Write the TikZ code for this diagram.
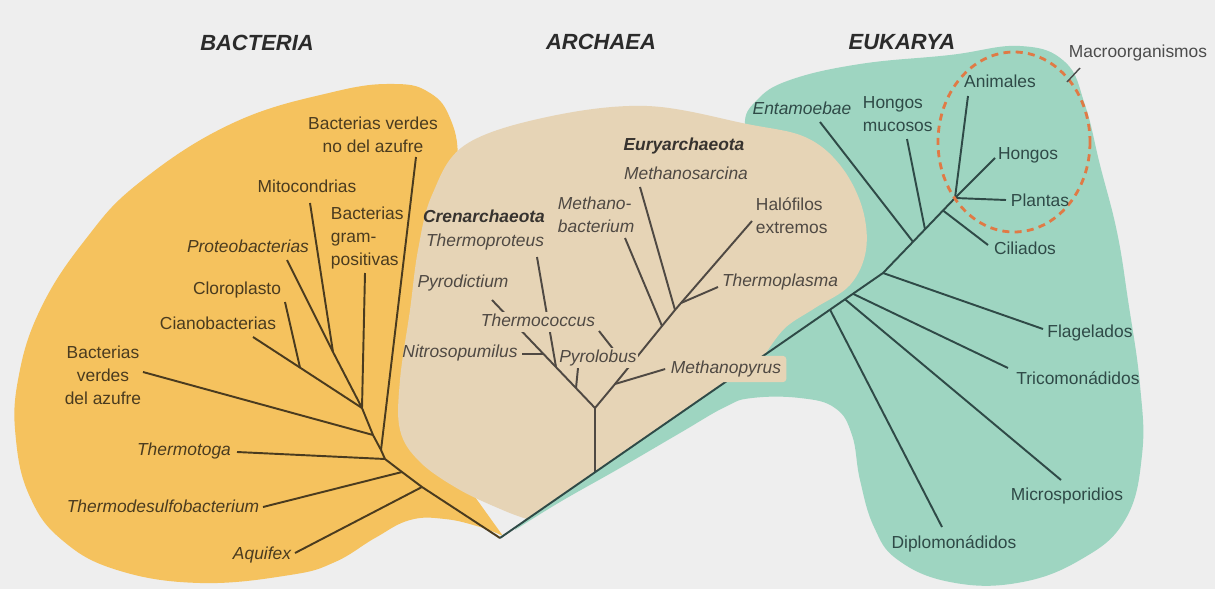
\documentclass[tikz,border=0pt]{standalone}
\usepackage{fontspec}
\setmainfont{Liberation Sans}
\usetikzlibrary{positioning,backgrounds}
\definecolor{pagegray}{HTML}{EEEEEE}
\definecolor{bacfill}{HTML}{F5C25E}
\definecolor{arcfill}{HTML}{E6D4B6}
\definecolor{eukfill}{HTML}{9ED5C1}
\definecolor{bacink}{HTML}{4A3B1F}
\definecolor{arcink}{HTML}{4F4943}
\definecolor{eukink}{HTML}{2F4A47}
\definecolor{titleink}{HTML}{2B2B2B}
\definecolor{macroink}{HTML}{4C4C4C}
\definecolor{macrodash}{HTML}{E07A45}
\newcommand\lblfont{\fontsize{9.9}{13}\selectfont}
\tikzset{
  realm/.style={font=\fontsize{12.5}{14}\selectfont\bfseries\itshape,text=titleink},
  % etiquetas
  bl/.style={font=\lblfont,text=bacink,inner sep=1.5pt,align=center},
  al/.style={font=\lblfont\itshape,text=arcink,inner sep=1.5pt,align=left},
  el/.style={font=\lblfont,text=eukink,inner sep=1.5pt,align=left},
  taxit/.style={font=\lblfont\itshape},
  phylum/.style={font=\lblfont\bfseries\itshape,text=arcink!70!black},
  oneline/.style={text height=7pt,text depth=2pt},
  lblmask/.style={fill=arcfill,inner xsep=1pt,inner ysep=1pt},
  % ramas
  bbr/.style={draw=bacink,line width=1.1pt,line join=round},
  abr/.style={draw=arcink,line width=1.1pt,line join=round},
  ebr/.style={draw=eukink,line width=1.1pt,line join=round},
}
\begin{document}
\begin{tikzpicture}[x=0.02cm,y=-0.02cm]
  \useasboundingbox (0,0) rectangle (1215,589);
  % ramificaciones
  \coordinate (root) at (500,538);
  \coordinate (b1) at (422,487);
  \coordinate (b2) at (402,472);
  \coordinate (b3) at (385,459);
  \coordinate (b3a) at (381,450);
  \coordinate (b4) at (373,435);
  \coordinate (b5) at (362,408);
  \coordinate (bc) at (300,367.6);
  \coordinate (bp) at (333,352);
  \coordinate (taquifex) at (295,553);
  \coordinate (tthermodesulfo) at (263,507);
  \coordinate (tthermotoga) at (237,452);
  \coordinate (tverdes) at (143,372);
  \coordinate (tciano) at (253,337);
  \coordinate (tcloro) at (285,302);
  \coordinate (tproteo) at (287,260);
  \coordinate (tmito) at (310,203);
  \coordinate (tgram) at (365,273);
  \coordinate (tnoazufre) at (416,157);
  \coordinate (a0) at (595,472.3);
  \coordinate (a1) at (595,408);
  \coordinate (apyrolobus) at (576,388);
  \coordinate (athermoproteus) at (556,367);
  \coordinate (anitro) at (543.5,354);
  \coordinate (tpyrolobus) at (578,368);
  \coordinate (tthermoproteus) at (537,257);
  \coordinate (tnitro) at (522,354);
  \coordinate (tpyrodictium) at (492,300);
  \coordinate (amethanopyrus) at (615,384);
  \coordinate (athermococcus) at (628,368);
  \coordinate (amethanobac) at (662,326);
  \coordinate (amethanosar) at (675,310);
  \coordinate (aeury) at (681,303);
  \coordinate (tthermococcus) at (599,331);
  \coordinate (tmethanobac) at (625,238);
  \coordinate (tmethanosar) at (640,187);
  \coordinate (thalofilos) at (752,221);
  \coordinate (tthermoplasma) at (718,287);
  \coordinate (ed) at (830,309.6);
  \coordinate (em) at (845,299.3);
  \coordinate (et) at (853,293.8);
  \coordinate (e0) at (883,273);
  \coordinate (eent) at (913,241.8);
  \coordinate (ehm) at (925,229.3);
  \coordinate (ecil) at (943,210.5);
  \coordinate (ejm) at (955,198);
  \coordinate (tdiplo) at (942,527);
  \coordinate (tmicro) at (1061,480);
  \coordinate (ttrico) at (1008,368);
  \coordinate (tflag) at (1043,329);
  \coordinate (tent) at (820,122);
  \coordinate (thm) at (907,139);
  \coordinate (tcil) at (988,245);
  \coordinate (tanim) at (968,96);
  \coordinate (thongos) at (995,158);
  \coordinate (tplantas) at (1006,200);
  \coordinate (macrotickA) at (1080,68);
  \coordinate (macrotickB) at (1067,82);

  \node[realm] (bacteria) at (257,43) {BACTERIA};
  \node[realm] (archaea) at (601,42) {ARCHAEA};
  \node[realm] (eukarya) at (902,42) {EUKARYA};

  \node[bl,taxit,oneline] (aquifex) at (262,555) {Aquifex};
  \node[bl,taxit,oneline] (thermodesulfo) at (163,508) {Thermodesulfobacterium};
  \node[bl,taxit,oneline] (thermotoga) at (184,451) {Thermotoga};
  \node[bl] (verdesazufre) at (103,375) {Bacterias\\verdes\\del azufre};
  \node[bl,oneline] (ciano) at (218,325) {Cianobacterias};
  \node[bl,oneline] (cloro) at (237,290) {Cloroplasto};
  \node[bl,taxit,oneline] (proteo) at (248,248) {Proteobacterias};
  \node[bl,oneline] (mito) at (307,188) {Mitocondrias};
  \node[bl,align=left,anchor=west] (grampos) at (328,238) {Bacterias\\gram-\\positivas};
  \node[bl] (noazufre) at (373,135) {Bacterias verdes\\no del azufre};

  \node[phylum,oneline] (crenarch) at (484,218) {Crenarchaeota};
  \node[al,oneline] (thermoproteus) at (485,242) {Thermoproteus};
  \node[al,oneline] (pyrodictium) at (463,283) {Pyrodictium};
  \node[al,oneline,lblmask] (thermococcus) at (538,322) {Thermococcus};
  \node[al,oneline] (nitroso) at (460,353) {Nitrosopumilus};
  \node[al,oneline,lblmask] (pyrolobus) at (598,358) {Pyrolobus};
  \node[al,oneline,lblmask,inner xsep=3pt,inner ysep=3pt,rounded corners=2pt] (methanopyrus) at (726,369) {Methanopyrus};
  \node[phylum,oneline] (euryarch) at (684,146) {Euryarchaeota};
  \node[al,oneline] (methanosar) at (686,175) {Methanosarcina};
  \node[al,anchor=west] (methanobac) at (555,215) {Methano-\\bacterium};
  \node[al,font=\lblfont,anchor=west] (halofilos) at (753,216) {Halófilos\\extremos};
  \node[al,oneline] (thermoplasma) at (780,282) {Thermoplasma};

  \node[el,taxit,oneline] (entamoebae) at (802,110) {Entamoebae};
  \node[el,anchor=west] (hongosmuc) at (860,114) {Hongos\\mucosos};
  \node[el,oneline] (animales) at (1000,83) {Animales};
  \node[el,oneline] (hongos) at (1028,155) {Hongos};
  \node[el,oneline] (plantas) at (1040,202) {Plantas};
  \node[el,oneline] (ciliados) at (1025,250) {Ciliados};
  \node[el,oneline] (flagelados) at (1090,333) {Flagelados};
  \node[el,oneline] (tricomon) at (1078,380) {Tricomonádidos};
  \node[el,oneline] (microspor) at (1067,496) {Microsporidios};
  \node[el,oneline] (diplomon) at (954,544) {Diplomonádidos};
  \node[el,oneline,text=macroink] (macroorg) at (1138,53) {Macroorganismos};

  \begin{scope}[on background layer]
  \fill[pagegray] (0,0) rectangle (1215,589);
  % dominios
  \fill[bacfill] plot[smooth,tension=0.7] coordinates {(503,536) (480,527) (445,519)
    (410,520) (375,538) (335,562) (290,575) (200,583) (117,570) (62,540) (30,497)
    (16,440) (18,380) (40,310) (85,240) (140,182) (233,123) (333,92) (395,84)
    (430,93) (450,118) (458,160) (452,230) (440,320) (440,420) (470,490)} -- cycle;
  \fill[eukfill] plot[smooth,tension=0.7] coordinates {(515,530) (560,502) (620,468)
    (680,433) (725,407) (752,398) (800,398) (835,408) (852,435) (860,480) (874,527)
    (898,560) (950,582) (1017,583) (1080,560) (1125,520) (1142,455) (1140,385)
    (1128,300) (1117,232) (1100,165) (1085,105) (1065,62) (1020,46) (950,55)
    (860,64) (790,80) (757,100) (745,125) (760,160) (780,250)} -- cycle;
  \fill[arcfill] plot[smooth,tension=0.6] coordinates {(527,519) (505,511) (460,490)
    (420,462) (400,430) (400,380) (410,310) (418,250) (432,195) (465,145) (547,117)
    (647,106) (747,124) (805,137) (840,165) (862,207) (866,250) (850,285) (815,308)
    (785,328) (765,354.6)} -- cycle;
  % bacterias
  \draw[bbr] (root) -- (b1) -- (b2) -- (b3) -- (b3a) -- (b4) -- (b5) -- (bp) -- (tproteo);
  \draw[bbr] (b1) -- (taquifex);
  \draw[bbr] (b2) -- (tthermodesulfo);
  \draw[bbr] (b3) -- (tthermotoga);
  \draw[bbr] (b3a) -- (tnoazufre);
  \draw[bbr] (b4) -- (tverdes);
  \draw[bbr] (b5) -- (tgram);
  \draw[bbr] (b5) -- (bc) -- (tciano);
  \draw[bbr] (bc) -- (tcloro);
  \draw[bbr] (bp) -- (tmito);
  % arqueas
  \draw[abr] (a0) -- (a1) -- (tpyrodictium);
  \draw[abr] (apyrolobus) -- (tpyrolobus);
  \draw[abr] (athermoproteus) -- (tthermoproteus);
  \draw[abr] (anitro) -- (tnitro);
  \draw[abr] (a1) -- (amethanopyrus) -- (athermococcus) -- (amethanobac) -- (amethanosar) -- (aeury) -- (thalofilos);
  \draw[abr] (amethanopyrus) -- (methanopyrus.west);
  \draw[abr] (athermococcus) -- (tthermococcus);
  \draw[abr] (amethanobac) -- (tmethanobac);
  \draw[abr] (amethanosar) -- (tmethanosar);
  \draw[abr] (aeury) -- (tthermoplasma);
  % eucariotas
  \draw[ebr] (root) -- (e0) -- (eent) -- (ehm) -- (ecil) -- (ejm) -- (thongos);
  \draw[ebr] (ed) -- (tdiplo);
  \draw[ebr] (em) -- (tmicro);
  \draw[ebr] (et) -- (ttrico);
  \draw[ebr] (e0) -- (tflag);
  \draw[ebr] (eent) -- (tent);
  \draw[ebr] (ehm) -- (thm);
  \draw[ebr] (ecil) -- (tcil);
  \draw[ebr] (ejm) -- (tanim);
  \draw[ebr] (ejm) -- (tplantas);
  \draw[macrodash,line width=1.6pt,dash pattern=on 4pt off 3pt] (1014,142) ellipse [x radius=76,y radius=90];
  \draw[macroink,line width=0.8pt] (macrotickA) -- (macrotickB);
  \end{scope}
\end{tikzpicture}
\end{document}
